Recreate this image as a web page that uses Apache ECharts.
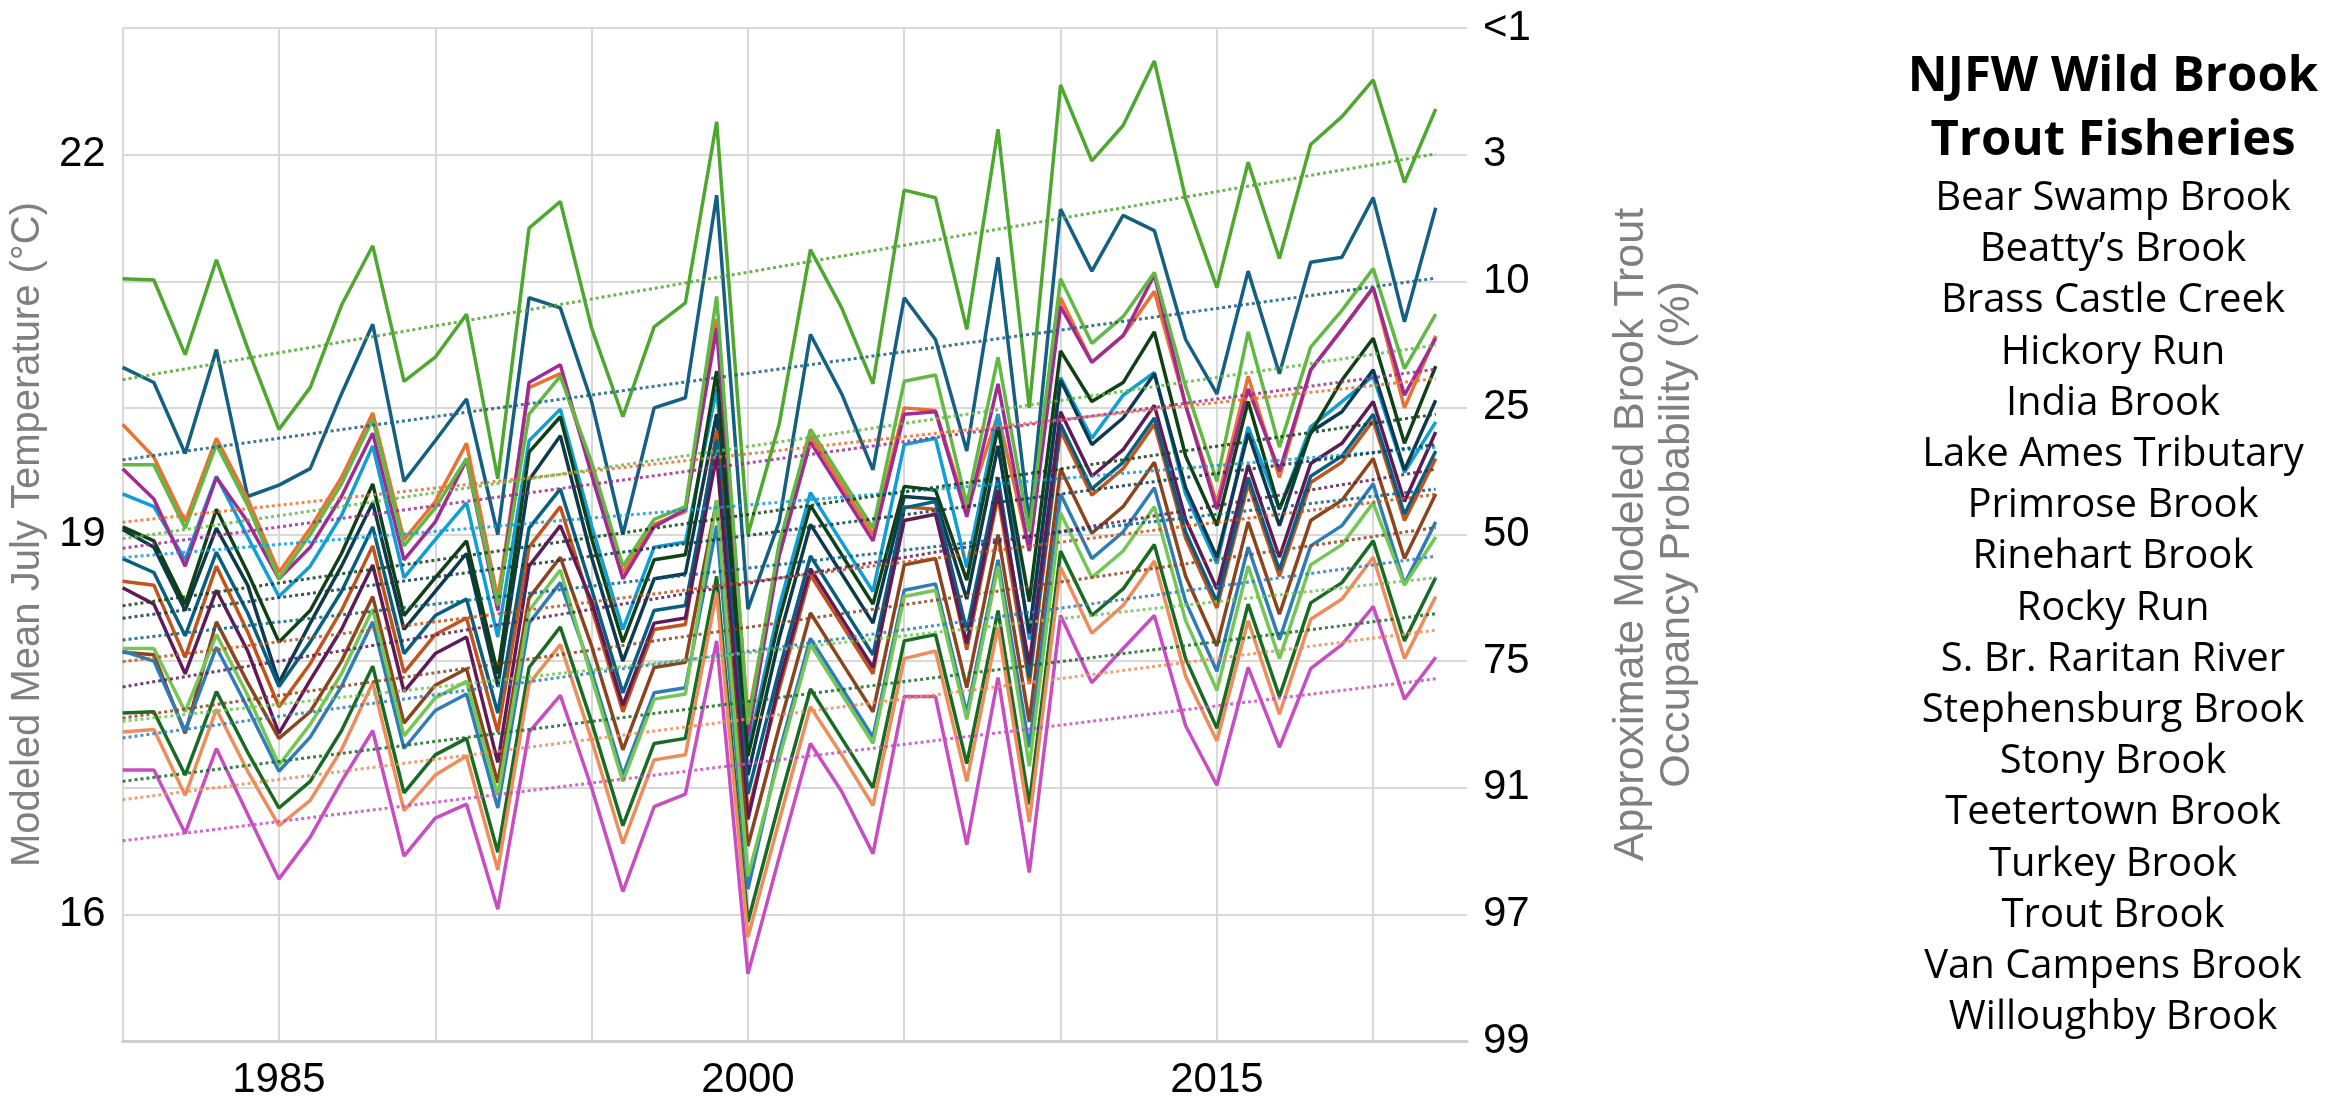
<!DOCTYPE html>
<html>
<head>
<meta charset="utf-8">
<title>NJFW Wild Brook Trout Fisheries</title>
<script src="https://cdn.jsdelivr.net/npm/echarts@6/dist/echarts.min.js"></script>
<style>
html,body{margin:0;padding:0;background:#fff;}
#chart{width:2325px;height:1101px;}
</style>
</head>
<body>
<div id="chart"></div>
<script>
var years=[1980,1981,1982,1983,1984,1985,1986,1987,1988,1989,
	1990,1991,1992,1993,1994,1995,1996,1997,1998,1999,
	2000,2001,2002,2003,2004,2005,2006,2007,2008,2009,
	2010,2011,2012,2013,2014,2015,2016,2017,2018,2019,
	2020,2021,2022];
var yearLabels=[1985,2000,2015];
var tempLabels=[16,19,22];
// occupancy probability (%) for 15,16,...,23 °C
var occupancyLabels=['99','97','91','75','50','25','10','3','<1'];

var streamNames=["Bear Swamp Brook","Beatty\u2019s Brook","Brass Castle Creek","Hickory Run","India Brook",
	"Lake Ames Tributary","Primrose Brook","Rinehart Brook","Rocky Run","S. Br. Raritan River",
	"Stephensburg Brook","Stony Brook","Teetertown Brook","Turkey Brook","Trout Brook",
	"Van Campens Brook","Willoughby Brook"];

// modeled mean July temperature (°C), 1980-2022
var bearSwampBrook=[20.32,20.20,19.64,20.46,19.30,19.39,19.52,20.11,20.66,19.42,
	19.74,20.07,19.00,20.87,20.79,20.05,19.00,20.00,20.08,21.68,
	18.41,19.10,20.58,20.11,19.51,20.87,20.54,19.66,21.19,19.09,
	21.57,21.08,21.52,21.40,20.54,20.11,21.08,20.27,21.15,21.19,
	21.66,20.68,21.58];
var beattysBrook=[19.87,19.61,19.10,19.76,19.28,18.70,19.05,19.45,19.96,18.96,
	19.26,19.72,18.49,20.16,20.27,19.52,18.70,19.08,19.18,20.70,
	17.55,18.88,19.78,19.39,19.00,20.00,19.98,19.19,19.95,18.87,
	20.87,20.36,20.57,20.92,20.02,19.25,20.25,19.45,20.30,20.62,
	20.95,20.00,20.57];
var brassCastleCreek=[17.59,17.60,17.10,17.76,17.28,16.84,17.05,17.45,17.96,16.96,
	17.26,17.39,16.49,17.95,18.27,17.52,16.70,17.35,17.39,18.67,
	15.94,16.88,17.78,17.39,17.00,18.16,18.21,17.19,18.40,16.87,
	18.87,18.36,18.57,18.92,18.02,17.47,18.45,17.72,18.46,18.62,
	18.95,18.16,18.66];
var hickoryRun=[19.32,19.22,18.80,19.46,18.98,18.51,18.75,19.15,19.70,18.66,
	18.96,19.25,18.19,19.74,19.99,19.07,18.25,18.90,18.94,20.15,
	17.30,18.43,19.33,18.94,18.55,19.71,19.76,18.74,19.95,18.17,
	20.24,19.76,20.10,20.28,19.32,18.77,19.85,19.20,19.85,20.05,
	20.25,19.49,19.89];
var indiaBrook=[19.52,19.28,18.75,19.45,19.10,18.65,18.90,19.30,19.80,18.80,
	19.10,19.59,18.40,20.20,20.34,19.47,18.65,19.06,19.20,20.63,
	17.40,18.83,19.73,19.34,18.95,19.95,19.97,19.14,20.19,18.87,
	20.80,20.36,20.57,21.05,20.02,19.20,20.15,19.50,20.30,20.62,
	20.95,20.10,20.55];
var lakeAmesTributary=[21.02,21.01,20.42,21.17,20.47,19.83,20.16,20.81,21.28,20.21,
	20.40,20.74,19.44,21.42,21.63,20.63,19.93,20.64,20.83,22.26,
	19.00,19.87,21.25,20.79,20.19,21.72,21.66,20.62,22.20,20.00,
	22.55,21.95,22.23,22.74,21.65,20.95,21.94,21.18,22.08,22.30,
	22.59,21.78,22.36];
var primroseBrook=[19.04,18.90,18.40,19.05,18.60,17.83,18.30,18.75,19.25,18.25,
	18.55,18.85,17.80,19.43,19.78,18.82,18.00,18.65,18.69,19.95,
	17.10,18.18,19.08,18.69,18.30,19.30,19.28,18.49,19.70,18.22,
	20.22,19.71,19.92,20.27,19.37,18.82,19.80,19.07,19.81,19.97,
	20.30,19.51,20.06];
var rinehartBrook=[18.63,18.60,18.03,18.75,18.23,17.64,17.98,18.40,18.91,17.91,
	18.21,18.34,17.44,18.90,19.22,18.42,17.60,18.25,18.29,19.82,
	16.80,17.78,18.68,18.29,17.90,19.22,19.20,18.09,19.30,17.82,
	19.82,19.31,19.52,19.87,18.97,18.42,19.40,18.67,19.41,19.57,
	19.90,19.11,19.60];
var rockyRun=[19.06,18.95,18.45,19.20,18.70,18.15,18.40,18.85,19.40,18.36,
	18.66,18.95,17.90,19.65,19.93,18.97,18.15,18.80,18.84,20.29,
	17.25,18.33,19.23,18.84,18.45,19.38,19.35,18.64,19.85,18.47,
	20.45,20.05,20.20,20.60,19.62,19.07,20.05,19.20,19.80,20.22,
	20.55,19.72,20.33];
var sBrRaritanRiver=[18.81,18.70,18.20,18.86,18.38,17.80,18.15,18.55,19.06,18.06,
	18.36,18.49,17.59,19.05,19.36,18.57,17.75,18.40,18.44,19.75,
	16.95,17.93,18.83,18.44,18.05,19.21,19.26,18.24,19.45,17.87,
	19.87,19.36,19.57,19.92,19.02,18.47,19.45,18.72,19.46,19.62,
	19.95,19.16,19.66];
var stephensburgBrook=[18.58,18.45,17.90,18.56,18.08,17.43,17.85,18.25,18.76,17.76,
	18.06,18.19,17.20,18.75,19.07,18.47,17.65,18.30,18.34,19.62,
	16.75,17.83,18.73,18.34,17.95,19.11,19.16,18.14,19.35,17.97,
	19.97,19.46,19.67,20.02,19.12,18.57,19.55,18.82,19.56,19.72,
	20.05,19.26,19.81];
var stonyBrook=[18.07,18.05,17.43,18.31,17.83,17.39,17.60,18.00,18.51,17.51,
	17.81,17.94,17.04,18.50,18.82,18.12,17.30,17.95,17.99,19.27,
	16.54,17.48,18.38,17.99,17.60,18.76,18.81,17.79,19.00,17.52,
	19.52,19.01,19.22,19.57,18.67,18.12,19.10,18.37,19.11,19.27,
	19.60,18.81,19.32];
var teetertownBrook=[18.08,18.00,17.45,18.11,17.63,17.13,17.40,17.80,18.31,17.31,
	17.61,17.74,16.84,18.30,18.62,17.92,17.10,17.75,17.79,19.07,
	16.20,17.28,18.18,17.79,17.40,18.56,18.61,17.59,18.80,17.32,
	19.32,18.81,19.02,19.37,18.47,17.92,18.90,18.17,18.91,19.07,
	19.40,18.61,19.10];
var turkeyBrook=[17.44,17.46,16.94,17.62,17.13,16.70,16.90,17.30,17.83,16.82,
	17.10,17.25,16.35,17.82,18.13,17.38,16.56,17.22,17.26,18.54,
	15.82,16.74,17.64,17.26,16.86,18.02,18.08,17.05,18.27,16.73,
	18.74,18.22,18.44,18.79,17.88,17.37,18.32,17.58,18.33,18.49,
	18.82,18.02,18.51];
var troutBrook=[19.55,19.55,19.05,19.71,19.23,18.65,19.00,19.40,19.91,18.91,
	19.21,19.60,18.44,19.95,20.25,19.57,18.75,19.12,19.22,20.88,
	17.50,18.93,19.83,19.44,19.05,20.21,20.26,19.24,20.40,19.02,
	21.02,20.51,20.72,21.07,20.17,19.42,20.60,19.69,20.48,20.77,
	21.10,20.31,20.74];
var vanCampensBrook=[18.10,18.10,17.60,18.21,17.73,17.18,17.50,17.90,18.41,17.41,
	17.71,17.84,16.94,18.40,18.72,17.87,17.05,17.70,17.74,19.27,
	16.30,17.23,18.13,17.74,17.35,18.51,18.56,17.54,18.75,17.17,
	19.17,18.66,18.87,19.22,18.32,17.77,18.75,18.02,18.76,18.92,
	19.25,18.60,18.98];
var willoughbyBrook=[17.14,17.14,16.64,17.31,16.79,16.28,16.61,17.05,17.45,16.46,
	16.76,16.87,16.04,17.44,17.73,17.00,16.18,16.85,16.95,18.16,
	15.53,16.45,17.35,16.97,16.48,17.72,17.72,16.55,17.87,16.33,
	18.36,17.83,18.10,18.36,17.49,17.02,17.95,17.32,17.94,18.13,
	18.43,17.70,18.03];

var streamValues=[bearSwampBrook,beattysBrook,brassCastleCreek,hickoryRun,indiaBrook,
	lakeAmesTributary,primroseBrook,rinehartBrook,rockyRun,sBrRaritanRiver,
	stephensburgBrook,stonyBrook,teetertownBrook,turkeyBrook,troutBrook,
	vanCampensBrook,willoughbyBrook];

var streamColors=["#156082","#E97132","#196B24","#0F9ED5","#A02B93",
	"#4EA72E","#0D3A4E","#C2531C","#0F4016","#095F80",
	"#601A58","#8C441E","#2F7DB8","#ED8D5B","#62B845",
	"#74C655","#C84DC2"];

var tickFont="Liberation Sans, Arial, sans-serif";
var listFont="Open Sans, sans-serif";

// least squares fit, like the spreadsheet's linear trendline
function trend(vals){
	let n=vals.length,sx=0,sy=0,sxx=0,sxy=0;
	for(let i=0;i<n;i++){
		let x=years[i]-years[0];
		sx+=x;sy+=vals[i];sxx+=x*x;sxy+=x*vals[i];
	}
	let b=(n*sxy-sx*sy)/(n*sxx-sx*sx);
	let a=(sy-b*sx)/n;
	let last=years[n-1]-years[0];
	return [[years[0],a],[years[n-1],a+b*last]];
}

var series=[];
streamValues.forEach((vals,k)=>{
	series.push({
		name:streamNames[k],
		type:"line",
		data:years.map((y,i)=>[y,vals[i]]),
		symbol:"none",
		smooth:false,
		z:2,
		lineStyle:{width:3.5,color:streamColors[k]},
		itemStyle:{color:streamColors[k]}
	});
});
streamValues.forEach((vals,k)=>{
	series.push({
		name:streamNames[k]+" trend",
		type:"line",
		data:trend(vals),
		symbol:"none",
		silent:true,
		z:3,
		lineStyle:{width:3,type:[3,3],cap:"butt",color:streamColors[k],opacity:0.85}
	});
});

var chart=echarts.init(document.getElementById("chart"),null,{renderer:"canvas"});
chart.setOption({
	animation:false,
	backgroundColor:"#ffffff",
	title:{
		text:"NJFW Wild Brook\nTrout Fisheries",
		subtext:streamNames.join("\n"),
		left:2113,
		top:45,
		padding:0,
		itemGap:0,
		textAlign:"center",
		textStyle:{fontFamily:listFont,fontWeight:"bold",fontSize:49,lineHeight:64,color:"#000"},
		subtextStyle:{fontFamily:listFont,fontSize:40,lineHeight:51.2,color:"#000"}
	},
	grid:{left:122,right:858,top:28,bottom:53,containLabel:false},
	xAxis:{
		type:"value",
		min:1980,
		max:2023,
		interval:5,
		axisLine:{show:true,lineStyle:{color:"#cfcfcf",width:3}},
		axisTick:{show:false},
		splitLine:{show:true,showMaxLine:false,lineStyle:{color:"#d9d9d9",width:2}},
		axisLabel:{
			margin:18,
			fontFamily:tickFont,fontSize:42,color:"#000",
			formatter:(v)=>yearLabels.indexOf(v)>=0?String(v):""
		}
	},
	yAxis:[
		{
			type:"value",
			position:"left",
			min:15,max:23,interval:1,
			name:"Modeled Mean July Temperature (\u00B0C)",
			nameLocation:"middle",
			nameGap:65,
			nameTextStyle:{fontFamily:tickFont,fontSize:40,color:"#7f7f7f"},
			axisLine:{show:false},
			axisTick:{show:false},
			splitLine:{show:true,lineStyle:{color:"#d9d9d9",width:2}},
			axisLabel:{
				margin:17,
				fontFamily:tickFont,fontSize:42,color:"#000",
				formatter:(v)=>tempLabels.indexOf(v)>=0?String(v):""
			}
		},
		{
			type:"value",
			position:"right",
			min:15,max:23,interval:1,
			name:"Approximate Modeled Brook Trout\nOccupancy Probability (%)",
			nameLocation:"middle",
			nameRotate:90,
			nameGap:141,
			nameTextStyle:{fontFamily:tickFont,fontSize:43,lineHeight:46,color:"#7f7f7f"},
			axisLine:{show:false},
			axisTick:{show:false},
			splitLine:{show:false},
			axisLabel:{
				margin:16,
				fontFamily:tickFont,fontSize:42,color:"#000",
				formatter:(v)=>occupancyLabels[Math.round(v-15)]
			}
		}
	],
	series:series
});
</script>
</body>
</html>
